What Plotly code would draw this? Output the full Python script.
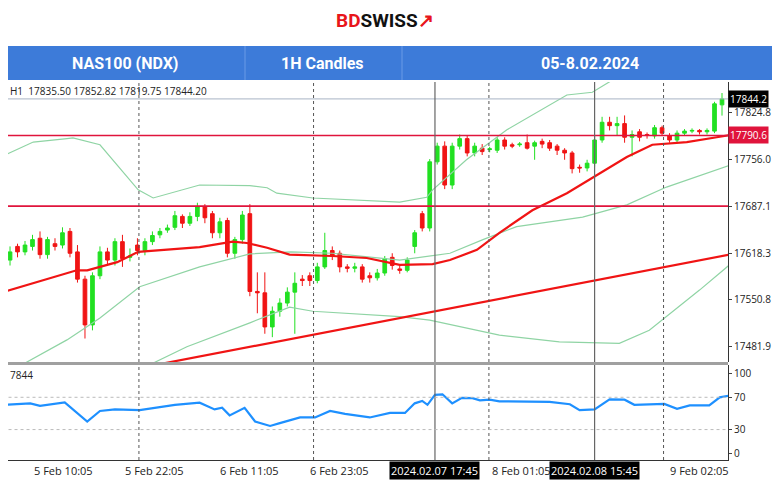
import plotly.graph_objects as go

# ----------------------------------------
# DATOS (índice = vela de 1H)
# ----------------------------------------
opens = [17608, 17628, 17620, 17628, 17640, 17616, 17632, 17630, 17650, 17620,
         17580, 17513, 17585, 17620, 17608, 17635, 17612, 17630, 17622, 17635,
         17645, 17652, 17656, 17672, 17662, 17672, 17686, 17676, 17648, 17666,
         17618, 17638, 17676, 17562, 17560, 17510, 17533, 17545, 17561, 17580,
         17585, 17578, 17598, 17622, 17618, 17598, 17596, 17598, 17585, 17582,
         17589, 17612, 17595, 17593, 17628, 17676, 17655, 17752, 17775, 17718,
         17775, 17786, 17765, 17772, 17770, 17769, 17784, 17777, 17777, 17780,
         17775, 17782, 17780, 17775, 17769, 17765, 17744, 17743, 17750, 17784,
         17810, 17805, 17808, 17788, 17796, 17792, 17790, 17802, 17790, 17784,
         17794, 17797, 17798, 17796, 17797, 17835.5]
closes = [17620, 17620, 17630, 17638, 17616, 17638, 17628, 17648, 17618, 17580,
          17513, 17585, 17620, 17608, 17635, 17610, 17614, 17622, 17635, 17644,
          17650, 17655, 17673, 17662, 17672, 17686, 17670, 17648, 17664, 17618,
          17638, 17674, 17562, 17560, 17510, 17533, 17545, 17561, 17574, 17578,
          17578, 17598, 17622, 17614, 17598, 17596, 17598, 17580, 17582, 17589,
          17610, 17600, 17593, 17608, 17648, 17655, 17752, 17775, 17718, 17775,
          17786, 17765, 17775, 17767, 17771, 17784, 17775, 17775, 17778, 17772,
          17780, 17778, 17772, 17769, 17765, 17742, 17743, 17750, 17784, 17810,
          17805, 17808, 17788, 17792, 17788, 17791, 17802, 17794, 17784, 17794,
          17797, 17798, 17796, 17798, 17837, 17844.2]
highs = [17628, 17632, 17636, 17645, 17650, 17642, 17640, 17656, 17655, 17630,
         17585, 17590, 17628, 17626, 17640, 17645, 17625, 17640, 17640, 17650,
         17655, 17660, 17680, 17675, 17678, 17692, 17690, 17680, 17670, 17670,
         17642, 17680, 17690, 17590, 17590, 17540, 17552, 17568, 17590, 17586,
         17590, 17604, 17648, 17628, 17622, 17602, 17604, 17602, 17590, 17595,
         17614, 17618, 17600, 17612, 17652, 17680, 17756, 17780, 17782, 17780,
         17792, 17790, 17780, 17778, 17774, 17788, 17788, 17780, 17781, 17792,
         17783, 17786, 17784, 17778, 17772, 17768, 17748, 17755, 17790, 17818,
         17818, 17818, 17820, 17798, 17800, 17795, 17806, 17805, 17794, 17798,
         17800, 17801, 17800, 17801, 17840, 17852.82]
lows = [17600, 17612, 17615, 17622, 17610, 17610, 17622, 17625, 17612, 17575,
        17493, 17505, 17580, 17600, 17600, 17598, 17606, 17615, 17615, 17630,
        17640, 17648, 17652, 17655, 17658, 17665, 17662, 17640, 17640, 17612,
        17610, 17632, 17555, 17530, 17500, 17495, 17525, 17540, 17500, 17570,
        17570, 17574, 17595, 17608, 17590, 17590, 17590, 17575, 17575, 17578,
        17585, 17594, 17588, 17590, 17618, 17650, 17650, 17748, 17712, 17712,
        17770, 17760, 17760, 17762, 17766, 17765, 17770, 17772, 17774, 17770,
        17755, 17772, 17768, 17762, 17755, 17735, 17736, 17738, 17745, 17780,
        17798, 17790, 17780, 17760, 17782, 17786, 17786, 17790, 17780, 17780,
        17790, 17794, 17792, 17792, 17794, 17819.75]

ma_x = [-1.3, 8.9, 10.3, 14.3, 17.1, 25.3, 29.7, 31.6, 34.3, 37.3, 43, 47.6, 52,
        56.4, 58.7, 62.3, 65.3, 69.7, 74.3, 77.7, 82.3, 85.7, 90.3, 94.3, 96]
ma_y = [17560, 17593, 17593, 17605, 17620, 17627, 17635, 17633, 17626, 17616, 17614, 17611, 17601,
        17602, 17608, 17623, 17648, 17681, 17706, 17728, 17759, 17777, 17781, 17788, 17791]

bb_up_x = [-1.3, 3.1, 7.6, 8.4, 12, 14.3, 17.1, 19.1, 25.3, 32, 34.3, 35.6, 40.4, 52,
           55.6, 56.4, 60.9, 66.3, 74.3, 77.7, 80.4]
bb_up_y = [17759, 17781, 17786, 17787, 17777, 17747, 17711, 17699, 17718, 17717, 17714, 17706, 17699, 17693,
           17700, 17711, 17755, 17799, 17850, 17854, 17872]
bb_mid_x = [2, 7.6, 12, 17.3, 25.3, 32, 37.5, 43, 52, 58.7, 63.1, 67.6, 76.4, 82.3, 87.6, 96]
bb_mid_y = [17457, 17491, 17523, 17569, 17598, 17617, 17620, 17618, 17608, 17618, 17638, 17657,
            17671, 17689, 17715, 17747]
bb_low_x = [19.1, 23.6, 32, 37.3, 40.4, 52, 56, 65.3, 73.3, 81.3, 85.3, 92, 96]
bb_low_y = [17457, 17481, 17516, 17539, 17533, 17525, 17520, 17498, 17488, 17486, 17505, 17564, 17601]

trend_x = [20.7, 96]
trend_y = [17457, 17616]

niveles = [17790.6, 17687.1]
precio_actual = 17844.2

rsi_x = [-0.7, 2.7, 4, 6.7, 7.3, 10.3, 12, 14, 17.3, 22, 25.3, 27.3, 28.3, 29.3, 31.3, 32.7,
         34.7, 36, 38.7, 40.7, 42.7, 44.7, 48, 50.7, 52.7, 54, 55, 55.7, 56.7, 57.7, 59, 60.3,
         61.7, 62.7, 64, 65.3, 72, 74.7, 76, 78, 80, 82, 83.3, 87.3, 89, 90.7, 93.3, 94.7, 96]
rsi_y = [60.7, 62.5, 59.5, 62.5, 63.6, 40, 53, 55, 54, 60.7, 63.3, 55, 57, 47.6, 57, 40,
         34.5, 38, 45, 45, 53, 49.4, 45, 50.6, 50.6, 62.5, 65.5, 60.7, 73, 73.7, 62.5, 69.3,
         68.9, 66.3, 67, 65, 64.4, 61.4, 54, 55, 67.4, 67, 60.7, 61.8, 55.8, 60, 60, 70, 71.9]

price_ticks = [17824.8, 17756.0, 17687.1, 17618.3, 17550.8, 17481.9]
rsi_ticks = [100, 70, 30, 0]
time_labels = ["5 Feb 10:05", "5 Feb 22:05", "6 Feb 11:05", "6 Feb 23:05", "8 Feb 01:05", "9 Feb 02:05"]
time_pos = [7.2, 19.3, 32, 44, 68.2, 92]
boxed_labels = ["2024.02.07 17:45", "2024.02.08 15:45"]
boxed_pos = [56.7, 78]
dotted_pos = [17.2, 40.5, 63.9, 87.2]

GREEN_BB = "#8fd4a4"
RED = "#f01414"

# la página tiene 8 px de margen del body; área de trazado en la página: x 8..728, y 82..460
def px(x):
    return (x - 8) / 720

def py(y):
    return (460 - y) / 378

fig = go.Figure()

fig.add_trace(go.Candlestick(
    x=list(range(len(opens))), open=opens, high=highs, low=lows, close=closes,
    increasing=dict(line=dict(color="#22e022", width=1), fillcolor="#22e022"),
    decreasing=dict(line=dict(color="#f01414", width=1), fillcolor="#f01414"),
    whiskerwidth=0, xaxis="x", yaxis="y", showlegend=False))

for xs, ys in [(bb_up_x, bb_up_y), (bb_mid_x, bb_mid_y), (bb_low_x, bb_low_y)]:
    fig.add_trace(go.Scatter(x=xs, y=ys, mode="lines", line=dict(color=GREEN_BB, width=1.2),
                             showlegend=False))
fig.add_trace(go.Scatter(x=ma_x, y=ma_y, mode="lines", line=dict(color=RED, width=2.2), showlegend=False))
fig.add_trace(go.Scatter(x=trend_x, y=trend_y, mode="lines", line=dict(color=RED, width=2.2), showlegend=False))

fig.add_trace(go.Scatter(x=rsi_x, y=rsi_y, mode="lines", line=dict(color="#1e90ff", width=2.2),
                         xaxis="x2", yaxis="y2", showlegend=False))

# lineas horizontales y verticales
for n in niveles:
    fig.add_shape(type="line", xref="x", yref="y", x0=-1, x1=96, y0=n, y1=n,
                  line=dict(color="#e0143c", width=1.6))
fig.add_shape(type="line", xref="x", yref="y", x0=-1, x1=96, y0=precio_actual, y1=precio_actual,
              line=dict(color="#a8b4c4", width=1))
for p in dotted_pos:
    for ya in ["y domain", "y2 domain"]:
        fig.add_shape(type="line", xref="x", yref=ya, x0=p, x1=p, y0=0, y1=1,
                      line=dict(color="#555555", width=1, dash="dot"))
for p in boxed_pos:
    for ya in ["y domain", "y2 domain"]:
        fig.add_shape(type="line", xref="x", yref=ya, x0=p, x1=p, y0=0, y1=1,
                      line=dict(color="#666666", width=1.2))
for g in [70, 30]:
    fig.add_shape(type="line", xref="x2", yref="y2", x0=-1, x1=96, y0=g, y1=g,
                  line=dict(color="#bbbbbb", width=1, dash="dot"))

# separador de paneles
fig.add_shape(type="rect", xref="paper", yref="paper", x0=0, x1=1, y0=py(365), y1=py(362),
              fillcolor="#a0a0a0", line=dict(width=0))

# banda azul de cabecera
fig.add_shape(type="rect", xref="paper", yref="paper", x0=px(8), x1=px(778),
              y0=py(80), y1=py(46), fillcolor="#3d7bd9", line=dict(width=0))
for dx in [245, 402]:
    fig.add_shape(type="line", xref="paper", yref="paper", x0=px(dx), x1=px(dx),
                  y0=py(80), y1=py(46), line=dict(color="#6a9be6", width=1))

ann = []
for t, p in zip(time_labels, time_pos):
    ann.append(dict(x=p, y=py(461), xref="x", yref="paper", text=t, showarrow=False, yanchor="top",
                    xanchor="center", font=dict(size=11, color="#222")))
for t, p in zip(boxed_labels, boxed_pos):
    ann.append(dict(x=p, y=py(461), xref="x", yref="paper", text=t, showarrow=False, yanchor="top",
                    xanchor="center", bgcolor="black", font=dict(size=11, color="white")))
ann.append(dict(x=1.0, y=precio_actual, xref="paper", yref="y", text="17844.2", showarrow=False,
                xanchor="left", bgcolor="black", font=dict(size=10, color="white")))
ann.append(dict(x=1.0, y=niveles[0], xref="paper", yref="y", text="17790.6", showarrow=False,
                xanchor="left", bgcolor="#e0143c", font=dict(size=10, color="white")))
ann.append(dict(x=0, y=1.0, xref="paper", yref="paper", text="H1  17835.50 17852.82 17819.75 17844.20",
                showarrow=False, xanchor="left", yanchor="top", font=dict(size=10, color="#222")))
ann.append(dict(x=0, y=py(366), xref="paper", yref="paper", text="7844",
                showarrow=False, xanchor="left", yanchor="top", font=dict(size=10, color="#222")))
# logo y cabecera
ann.append(dict(x=px(385), y=py(21), xref="paper", yref="paper", xanchor="center", yanchor="middle",
                showarrow=False,
                text="<b><span style='color:#e8151b'>BD</span><span style='color:#111'>SWISS</span>"
                     "<span style='color:#e8151b'>↗</span></b>",
                font=dict(size=19, family="Roboto")))
for t, cx in [("NAS100 (NDX)", 125), ("1H Candles", 322), ("05-8.02.2024", 590)]:
    ann.append(dict(x=px(cx), y=py(63), xref="paper", yref="paper", showarrow=False,
                    xanchor="center", yanchor="middle",
                    text="<b>" + t + "</b>", font=dict(size=16, color="white", family="Roboto")))

fig.update_layout(
    width=772, height=482,
    margin=dict(l=0, r=52, t=74, b=30),
    paper_bgcolor="white", plot_bgcolor="white",
    xaxis=dict(domain=[0, 1], range=[-0.27, 95.8], showticklabels=False, showgrid=False,
               zeroline=False, rangeslider=dict(visible=False), anchor="y"),
    xaxis2=dict(domain=[0, 1], range=[-0.27, 95.8], matches="x", showticklabels=False, showgrid=False,
                zeroline=False, anchor="y2", showline=True, linecolor="#333"),
    yaxis=dict(domain=[py(362), 1], range=[17458.6, 17869], side="right", tickvals=price_ticks,
               ticktext=[f"{v:.1f}" for v in price_ticks], showgrid=False, zeroline=False,
               showline=True, linecolor="#333", ticks="outside", ticklen=3,
               tickfont=dict(size=10, color="#222")),
    yaxis2=dict(domain=[0, py(365)], range=[-7.7, 110], side="right", tickvals=rsi_ticks,
                showgrid=False, zeroline=False, showline=True, linecolor="#333",
                ticks="outside", ticklen=3, tickfont=dict(size=10, color="#222")),
    annotations=ann,
)

fig.write_html("out.html")
